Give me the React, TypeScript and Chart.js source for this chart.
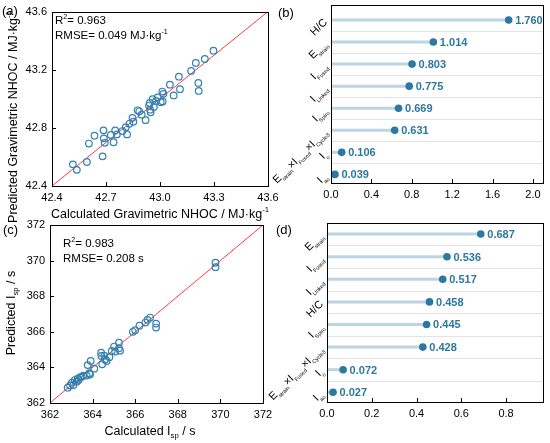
import React, { useEffect, useRef } from 'react';
import { Chart, registerables } from 'chart.js';

Chart.register(...registerables);

const W = 550;
const H = 443;
const FONT = '"Liberation Sans", Arial, sans-serif';
const POINT = '#3381b0';
const DOT = '#2b78a0';
const STEM = '#bcd4e3';
const GRID = '#e4e4e4';
const DIAG = '#ff3b3b';

Chart.defaults.font.family = FONT;
Chart.defaults.color = '#000';

// (a) gravimetric NHOC, calculated vs predicted
const nhocCalc = [
  42.516, 42.538, 42.594, 42.605, 42.636, 42.681, 42.686, 42.688, 42.693, 42.727,
  42.742, 42.751, 42.760, 42.791, 42.810, 42.817, 42.830, 42.847, 42.852, 42.876,
  42.885, 42.898, 42.920, 42.939, 42.943, 42.945, 42.948, 42.959, 42.966, 42.978,
  42.987, 43.004, 43.015, 43.013, 43.019, 43.055, 43.076, 43.105, 43.111, 43.173,
  43.199, 43.213, 43.215, 43.249, 43.297,
];
const nhocPred = [
  42.549, 42.511, 42.565, 42.692, 42.746, 42.604, 42.783, 42.728, 42.697, 42.751,
  42.701, 42.783, 42.755, 42.778, 42.805, 42.755, 42.828, 42.869, 42.842, 42.921,
  42.914, 42.891, 42.853, 42.952, 42.971, 42.925, 42.907, 42.998, 42.943, 42.986,
  43.009, 42.977, 42.982, 43.050, 43.034, 43.097, 43.023, 43.152, 43.066, 43.192,
  43.247, 43.109, 43.054, 43.274, 43.331,
];
const nhocTicksX = [42.4, 42.7, 43.0, 43.3, 43.6];
const nhocTicksY = [42.4, 42.8, 43.2, 43.6];

// (c) specific impulse, calculated vs predicted
const ispCalc = [
  362.83, 362.94, 363.03, 363.10, 363.16, 363.25, 363.30, 363.35, 363.41, 363.49,
  363.57, 363.72, 363.85, 363.88, 363.77, 363.91, 364.08, 364.40, 364.41, 364.45,
  364.55, 364.59, 364.66, 364.79, 364.90, 365.01, 365.06, 365.24, 365.24, 365.29,
  365.89, 366.00, 366.20, 366.48, 366.58, 366.70, 366.98, 366.98, 369.77, 369.77,
];
const ispPred = [
  362.86, 362.99, 363.14, 363.01, 363.29, 363.20, 363.37, 363.29, 363.44, 363.48,
  363.54, 363.54, 363.67, 363.60, 364.13, 364.36, 363.93, 364.83, 364.64, 364.17,
  364.66, 364.45, 364.36, 364.57, 364.92, 365.17, 364.89, 365.39, 365.08, 364.94,
  366.00, 366.09, 366.34, 366.52, 366.67, 366.80, 366.46, 366.24, 369.88, 369.63,
];
const ispTicks = [362, 364, 366, 368, 370, 372];

// (b) feature importance for NHOC
const nhocFeatures = [
  'H/C', 'E_{strain}', 'I_{Fused}', 'I_{Linked}', 'I_{Spiro}',
  'E_{strain}×I_{Fused}×I_{Cycle3}', 'I_{o}', 'I_{ao}',
];
const nhocImportance = [1.760, 1.014, 0.803, 0.775, 0.669, 0.631, 0.106, 0.039];
const nhocImpTicks = [0, 0.4, 0.8, 1.2, 1.6, 2.0];

// (d) feature importance for Isp
const ispFeatures = [
  'E_{strain}', 'I_{Fused}', 'I_{Linked}', 'H/C', 'I_{Spiro}',
  'E_{strain}×I_{Fused}×I_{Cycle3}', 'I_{o}', 'I_{ao}',
];
const ispImportance = [0.687, 0.536, 0.517, 0.458, 0.445, 0.428, 0.072, 0.027];
const ispImpTicks = [0, 0.2, 0.4, 0.6, 0.8];

type Area = { l: number; t: number; r: number; b: number };
const YW = 40;
const XH = 24;

// text with _{sub} and ^{sup} parts
type Seg = { t: string; k: number };
function parse(s: string): Seg[] {
  const out: Seg[] = [];
  const re = /([_^])\{([^}]*)\}/g;
  let last = 0;
  let m: RegExpExecArray | null;
  while ((m = re.exec(s))) {
    if (m.index > last) out.push({ t: s.slice(last, m.index), k: 0 });
    out.push({ t: m[2], k: m[1] === '_' ? 1 : -1 });
    last = re.lastIndex;
  }
  if (last < s.length) out.push({ t: s.slice(last), k: 0 });
  return out;
}

function drawRich(
  ctx: CanvasRenderingContext2D, s: string, x: number, y: number, size: number,
  align: 'left' | 'center' | 'right', rot = 0, color = '#000', weight = 'normal', small = 0.62,
) {
  const segs = parse(s);
  const fontFor = (k: number) => `${weight} ${k ? size * small : size}px ${FONT}`;
  let w = 0;
  for (const sg of segs) {
    ctx.font = fontFor(sg.k);
    w += ctx.measureText(sg.t).width;
  }
  ctx.save();
  ctx.translate(x, y);
  ctx.rotate(rot);
  ctx.fillStyle = color;
  ctx.textBaseline = 'alphabetic';
  ctx.textAlign = 'left';
  let cx = align === 'left' ? 0 : align === 'right' ? -w : -w / 2;
  const base = size * 0.36;
  for (const sg of segs) {
    ctx.font = fontFor(sg.k);
    const dy = sg.k === 1 ? size * 0.3 : sg.k === -1 ? -size * 0.42 : 0;
    ctx.fillText(sg.t, cx, base + dy);
    cx += ctx.measureText(sg.t).width;
  }
  ctx.restore();
}

function padFor(a: Area) {
  return { left: a.l - YW, top: a.t, right: W - a.r, bottom: H - a.b - XH };
}

function tickAxis(ticks: number[], digits: number, size: 'x' | 'y', extra: any = {}) {
  return {
    type: 'linear',
    afterBuildTicks: (s: any) => { s.ticks = ticks.map(v => ({ value: v })); },
    afterFit: (s: any) => { if (size === 'x') s.height = XH; else s.width = YW; },
    ticks: {
      font: { size: 11 }, color: '#000', padding: 5, autoSkip: false, maxRotation: 0,
      callback: (v: any) => Number(v).toFixed(digits),
    },
    grid: { display: false, drawTicks: false },
    border: { display: false },
    ...extra,
  };
}

function box(ctx: CanvasRenderingContext2D, a: any) {
  ctx.strokeStyle = '#000';
  ctx.lineWidth = 1;
  ctx.strokeRect(Math.round(a.left) + 0.5, Math.round(a.top) + 0.5,
    Math.round(a.right - a.left), Math.round(a.bottom - a.top));
}

interface ScatterSpec {
  area: Area; xs: number[]; ys: number[]; range: [number, number];
  ticksX: number[]; ticksY: number[]; digits: number;
  tag: string; tagAt: [number, number]; notes: string[]; noteAt: [number, number];
  xTitle: string; xTitleAt: [number, number]; yTitle: string; yTitleAt: [number, number];
}

function scatterConfig(p: ScatterSpec): any {
  const [lo, hi] = p.range;
  return {
    type: 'scatter',
    data: {
      datasets: [
        {
          data: p.xs.map((x, i) => ({ x, y: p.ys[i] })),
          borderColor: POINT, backgroundColor: 'rgba(0,0,0,0)',
          pointRadius: 3.3, borderWidth: 1.2,
        },
        {
          data: [{ x: lo, y: lo }, { x: hi, y: hi }],
          showLine: true, borderColor: DIAG, borderWidth: 1, pointRadius: 0,
        },
      ],
    },
    options: {
      animation: false, responsive: false, devicePixelRatio: 1,
      layout: { padding: padFor(p.area) },
      plugins: { legend: { display: false }, tooltip: { enabled: false } },
      scales: {
        x: tickAxis(p.ticksX, p.digits, 'x', { min: lo, max: hi }),
        y: tickAxis(p.ticksY, p.digits, 'y', { min: lo, max: hi }),
      },
    },
    plugins: [{
      id: 'deco',
      afterDraw(chart: any) {
        const { ctx, chartArea: a } = chart;
        const sx = chart.scales.x;
        const sy = chart.scales.y;
        ctx.save();
        box(ctx, a);
        ctx.beginPath();
        for (const v of p.ticksX) {
          const x = Math.round(sx.getPixelForValue(v)) + 0.5;
          ctx.moveTo(x, a.bottom); ctx.lineTo(x, a.bottom - 4);
        }
        for (const v of p.ticksY) {
          const y = Math.round(sy.getPixelForValue(v)) + 0.5;
          ctx.moveTo(a.left, y); ctx.lineTo(a.left + 4, y);
        }
        ctx.stroke();
        drawRich(ctx, p.tag, p.tagAt[0], p.tagAt[1], 13, 'left');
        p.notes.forEach((n, i) => drawRich(ctx, n, p.noteAt[0], p.noteAt[1] + i * 14.5, 11.5, 'left'));
        drawRich(ctx, p.xTitle, p.xTitleAt[0], p.xTitleAt[1], 12.5, 'center');
        drawRich(ctx, p.yTitle, p.yTitleAt[0], p.yTitleAt[1], 12.5, 'center', -Math.PI / 2);
        ctx.restore();
      },
    }],
  };
}

interface LollipopSpec {
  area: Area; labels: string[]; values: number[]; xMax: number; yRange: [number, number];
  ticks: number[]; tag: string; tagAt: [number, number];
}

function lollipopConfig(p: LollipopSpec): any {
  const stems = p.values.map((v, i) => ({
    data: [{ x: 0, y: i }, { x: v, y: i }],
    showLine: true, borderColor: STEM, borderWidth: 3, pointRadius: 0,
  }));
  return {
    type: 'scatter',
    data: {
      datasets: [
        {
          data: p.values.map((v, i) => ({ x: v, y: i })),
          backgroundColor: DOT, borderColor: DOT, borderWidth: 0, pointRadius: 3.8,
        },
        ...stems,
      ],
    },
    options: {
      animation: false, responsive: false, devicePixelRatio: 1,
      layout: { padding: padFor(p.area) },
      plugins: { legend: { display: false }, tooltip: { enabled: false } },
      scales: {
        x: tickAxis(p.ticks, 1, 'x', { min: 0, max: p.xMax }),
        y: {
          type: 'linear', reverse: true, min: p.yRange[0], max: p.yRange[1],
          afterFit: (s: any) => { s.width = YW; },
          ticks: { display: false },
          grid: { display: false, drawTicks: false },
          border: { display: false },
        },
      },
    },
    plugins: [{
      id: 'lolli',
      beforeDatasetsDraw(chart: any) {
        const { ctx, chartArea: a } = chart;
        const sy = chart.scales.y;
        ctx.save();
        ctx.strokeStyle = GRID;
        ctx.lineWidth = 1;
        ctx.beginPath();
        for (let i = 0; i < p.values.length - 1; i++) {
          const y = Math.round(sy.getPixelForValue(i + 0.5)) + 0.5;
          ctx.moveTo(a.left, y); ctx.lineTo(a.right, y);
        }
        ctx.stroke();
        ctx.restore();
      },
      afterDraw(chart: any) {
        const { ctx, chartArea: a } = chart;
        const sx = chart.scales.x;
        const sy = chart.scales.y;
        const dots = chart.getDatasetMeta(0).data;
        ctx.save();
        box(ctx, a);
        ctx.beginPath();
        for (const v of p.ticks) {
          const x = Math.round(sx.getPixelForValue(v)) + 0.5;
          ctx.moveTo(x, a.bottom); ctx.lineTo(x, a.bottom - 4);
        }
        ctx.stroke();
        p.values.forEach((v, i) => {
          const el = dots[i];
          drawRich(ctx, v.toFixed(3), el.x + 6.5, el.y, 11, 'left', 0, DOT, 'bold');
        });
        p.labels.forEach((lab, i) => {
          drawRich(ctx, lab, a.left - 6, sy.getPixelForValue(i), 11, 'right', -Math.PI / 4, '#000', 'normal', 0.5);
        });
        drawRich(ctx, p.tag, p.tagAt[0], p.tagAt[1], 13, 'left');
        ctx.restore();
      },
    }],
  };
}

const makeA = () => scatterConfig({
  area: { l: 52, t: 9, r: 268, b: 186 }, xs: nhocCalc, ys: nhocPred, range: [42.4, 43.6],
  ticksX: nhocTicksX, ticksY: nhocTicksY, digits: 1,
  tag: '(a)', tagAt: [2, 10], notes: ['R^{2}= 0.963', 'RMSE= 0.049 MJ·kg^{-1}'], noteAt: [55, 20],
  xTitle: 'Calculated Gravimetric NHOC / MJ·kg^{-1}', xTitleAt: [160, 213],
  yTitle: 'Predicted Gravimetric NHOC / MJ·kg^{-1}', yTitleAt: [12, 117],
});

const makeC = () => scatterConfig({
  area: { l: 50, t: 225, r: 263, b: 403 }, xs: ispCalc, ys: ispPred, range: [362, 372],
  ticksX: ispTicks, ticksY: ispTicks, digits: 0,
  tag: '(c)', tagAt: [3, 229], notes: ['R^{2}= 0.983', 'RMSE= 0.208 s'], noteAt: [63, 243],
  xTitle: 'Calculated I_{sp} / s', xTitleAt: [150, 430],
  yTitle: 'Predicted I_{sp} / s', yTitleAt: [10, 313],
});

const makeB = () => lollipopConfig({
  area: { l: 331, t: 5, r: 543, b: 183 }, labels: nhocFeatures, values: nhocImportance,
  xMax: 2.1, yRange: [-0.68, 7.39], ticks: nhocImpTicks, tag: '(b)', tagAt: [278, 12],
});

const makeD = () => lollipopConfig({
  area: { l: 327, t: 223, r: 543, b: 402 }, labels: ispFeatures, values: ispImportance,
  xMax: 0.965, yRange: [-0.49, 7.43], ticks: ispImpTicks, tag: '(d)', tagAt: [276, 229],
});

const Panel: React.FC<{ make: () => any }> = ({ make }) => {
  const ref = useRef<HTMLCanvasElement | null>(null);

  useEffect(() => {
    if (!ref.current) return;
    const chart = new Chart(ref.current, make());
    return () => {
      chart.destroy();
    };
  }, [make]);

  return (
    <canvas
      ref={ref}
      width={W}
      height={H}
      style={{ position: 'absolute', left: 0, top: 0, width: W, height: H }}
    />
  );
};

export default function App() {
  return (
    <div style={{ position: 'fixed', left: 0, top: 0, width: W, height: H, background: '#fff' }}>
      <Panel make={makeA} />
      <Panel make={makeB} />
      <Panel make={makeC} />
      <Panel make={makeD} />
    </div>
  );
}
